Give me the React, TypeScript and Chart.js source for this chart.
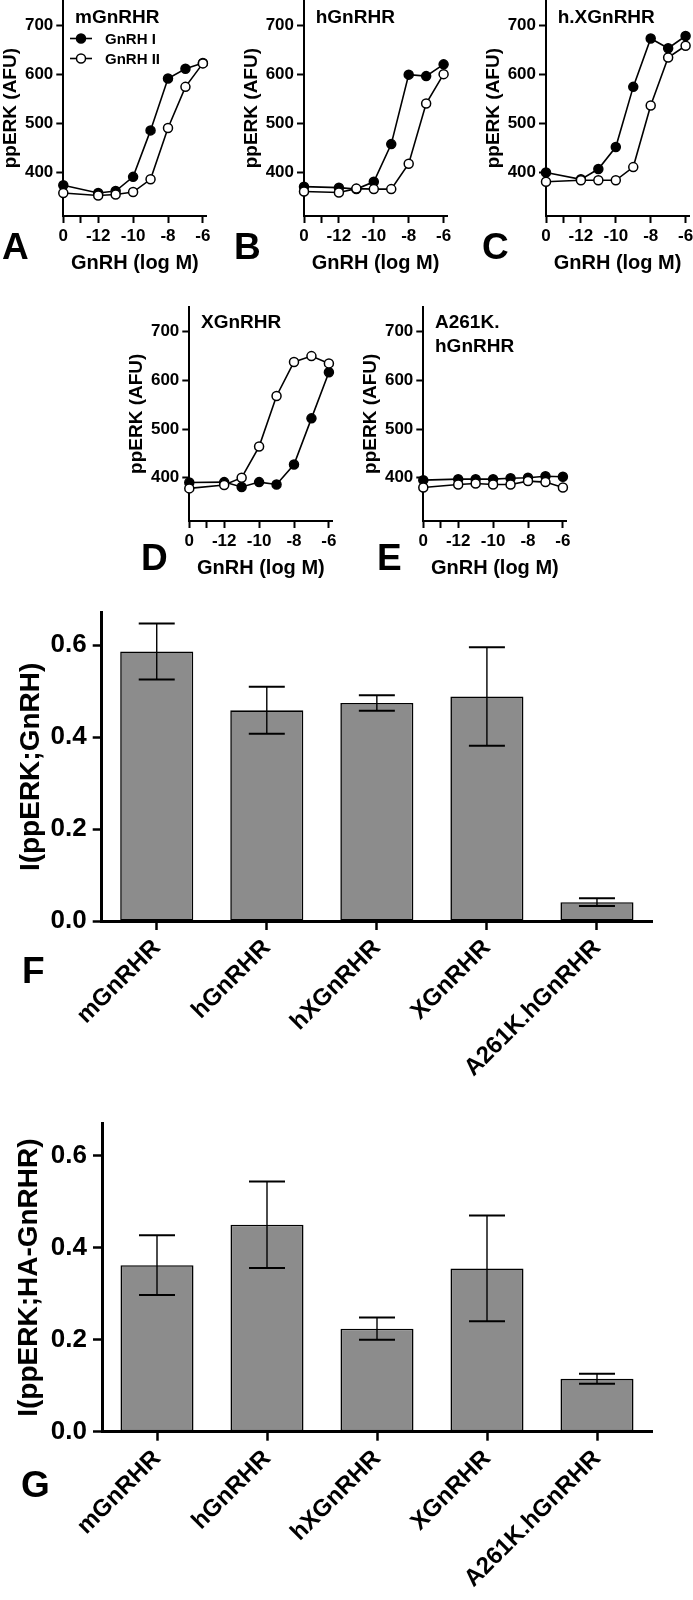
import React, { useEffect, useRef } from 'react';
import { Chart, registerables } from 'chart.js';

Chart.register(...registerables);

const FONT = "'Liberation Sans', Arial, Helvetica, sans-serif";
const NARROW = "'Liberation Sans Narrow', 'Arial Narrow', 'Liberation Sans', Arial, sans-serif";

// ---------- DATA ----------
// Dose positions on the log axis; the "0" (no GnRH) point is drawn at -14
const DOSE_X = [-14, -12, -11, -10, -9, -8, -7, -6];
const DOSE_TICK_VALUES = [-14, -13, -12, -10, -8, -6];
const DOSE_TICK_LABELS = ['0', '', '-12', '-10', '-8', '-6'];
const DOSE_Y_TICKS = [400, 500, 600, 700];

const M_GNRH1 = [374, 358, 362, 391, 486, 592, 612, 624];
const M_GNRH2 = [358, 353, 355, 360, 386, 491, 575, 623];
const H_GNRH1 = [371, 369, 366, 381, 458, 600, 597, 621];
const H_GNRH2 = [361, 359, 367, 366, 366, 418, 541, 601];
const HX_GNRH1 = [400, 386, 407, 452, 575, 674, 654, 679];
const HX_GNRH2 = [381, 384, 384, 384, 411, 537, 635, 659];
const X_GNRH1 = [390, 391, 381, 391, 386, 427, 522, 617];
const X_GNRH2 = [378, 385, 400, 464, 568, 638, 650, 635];
const A261K_GNRH1 = [395, 397, 397, 397, 399, 400, 403, 402];
const A261K_GNRH2 = [380, 386, 388, 386, 386, 393, 391, 380];

const BAR_CATEGORIES = ['mGnRHR', 'hGnRHR', 'hXGnRHR', 'XGnRHR', 'A261K.hGnRHR'];
const F_MEAN = [0.586, 0.458, 0.474, 0.488, 0.041];
const F_SEM = [0.061, 0.051, 0.017, 0.107, 0.0085];
const G_MEAN = [0.362, 0.45, 0.224, 0.355, 0.115];
const G_SEM = [0.065, 0.094, 0.024, 0.115, 0.011];
const BAR_Y_TICKS = [0, 0.2, 0.4, 0.6];

// ---------- GEOMETRY ----------
const DOSE_X_MIN = -14;
const DOSE_X_MAX = -5.8;
const DOSE_Y_MIN = 311;
const DOSE_Y_MAX = 752;
const PX_PER_LOG = 17.45;

type TextItem = { text: string; x: number; y: number; size: number; align?: CanvasTextAlign; baseline?: CanvasTextBaseline };
type LegendItem = { x1: number; x2: number; y: number; filled: boolean; text: string; tx: number };

function makeTextPlugin(items: TextItem[], legend: LegendItem[] = []) {
  return {
    id: 'panelText',
    afterDraw(chart: any) {
      const ctx = chart.ctx as CanvasRenderingContext2D;
      items.forEach((it) => {
        ctx.save();
        ctx.font = `bold ${it.size}px ${FONT}`;
        ctx.fillStyle = '#000';
        ctx.textAlign = it.align || 'left';
        ctx.textBaseline = it.baseline || 'alphabetic';
        ctx.fillText(it.text, it.x, it.y);
        ctx.restore();
      });
      legend.forEach((lg) => {
        ctx.save();
        ctx.strokeStyle = '#000';
        ctx.lineWidth = 1.6;
        ctx.beginPath();
        ctx.moveTo(lg.x1, lg.y);
        ctx.lineTo(lg.x2, lg.y);
        ctx.stroke();
        ctx.beginPath();
        ctx.arc((lg.x1 + lg.x2) / 2, lg.y, 4.5, 0, Math.PI * 2);
        ctx.fillStyle = lg.filled ? '#000' : '#fff';
        ctx.fill();
        ctx.lineWidth = 1.5;
        ctx.stroke();
        ctx.font = `bold 15px ${FONT}`;
        ctx.fillStyle = '#000';
        ctx.textAlign = 'left';
        ctx.textBaseline = 'middle';
        ctx.fillText(lg.text, lg.tx, lg.y + 1);
        ctx.restore();
      });
    },
  };
}

function makeErrorBarPlugin(mean: number[], sem: number[], cap: number) {
  return {
    id: 'errorBars',
    afterDatasetsDraw(chart: any) {
      const meta = chart.getDatasetMeta(0);
      const ys = chart.scales.y;
      const ctx = chart.ctx as CanvasRenderingContext2D;
      mean.forEach((m, i) => {
        const x = meta.data[i].x;
        const yHi = ys.getPixelForValue(m + sem[i]);
        const yLo = ys.getPixelForValue(m - sem[i]);
        ctx.save();
        ctx.strokeStyle = '#000';
        ctx.lineWidth = 1.4;
        ctx.beginPath();
        ctx.moveTo(x, yHi);
        ctx.lineTo(x, yLo);
        ctx.stroke();
        ctx.lineWidth = 2;
        ctx.beginPath();
        ctx.moveTo(x - cap, yHi);
        ctx.lineTo(x + cap, yHi);
        ctx.moveTo(x - cap, yLo);
        ctx.lineTo(x + cap, yLo);
        ctx.stroke();
        ctx.restore();
      });
    },
  };
}

type DosePanel = {
  left: number; top: number; width: number; height: number;
  axisX: number; axisTop: number; axisBottom: number;
  gnrh1: number[]; gnrh2: number[];
  titleLines: string[]; titleBaseline: number; letter: string; letterX: number; letterBaseline: number;
  legend?: boolean;
};

function doseConfig(p: DosePanel) {
  const yW = p.axisX - p.left;
  const padTop = p.axisTop - p.top;
  const xH = p.top + p.height - p.axisBottom;
  const plotW = (DOSE_X_MAX - DOSE_X_MIN) * PX_PER_LOG;
  const padRight = p.left + p.width - (p.axisX + plotW);
  const yTitleCenter = p.axisX - 52.3 - p.left;
  const yTitleLH = 19 * 1.2;
  const xTitleCenter = p.axisBottom + 47;
  const xTitleLH = 20 * 1.2;

  const items: TextItem[] = [];
  p.titleLines.forEach((t, i) => {
    items.push({ text: t, x: p.axisX + 11.7 - p.left, y: p.titleBaseline + i * 24 - p.top, size: 19 });
  });
  items.push({ text: p.letter, x: p.letterX - p.left, y: p.letterBaseline - p.top, size: 37 });
  const legend: LegendItem[] = p.legend
    ? [
        { x1: 70 - p.left, x2: 92 - p.left, y: 38.5 - p.top, filled: true, text: 'GnRH I', tx: 105 - p.left },
        { x1: 70 - p.left, x2: 92 - p.left, y: 58.5 - p.top, filled: false, text: 'GnRH II', tx: 105 - p.left },
      ]
    : [];

  const tickFont = { size: 17, weight: 'bold' as const, family: FONT };
  const mk = (vals: number[]) => DOSE_X.map((x, i) => ({ x, y: vals[i] }));

  return {
    type: 'line' as const,
    data: {
      datasets: [
        {
          label: 'GnRH I', data: mk(p.gnrh1), borderColor: '#000', borderWidth: 1.6,
          pointRadius: 4.5, pointBackgroundColor: '#000', pointBorderColor: '#000', pointBorderWidth: 1.5,
          tension: 0, clip: false as any, order: 1, fill: false,
        },
        {
          label: 'GnRH II', data: mk(p.gnrh2), borderColor: '#000', borderWidth: 1.6,
          pointRadius: 4.5, pointBackgroundColor: '#fff', pointBorderColor: '#000', pointBorderWidth: 1.5,
          tension: 0, clip: false as any, order: 0, fill: false,
        },
      ],
    },
    options: {
      animation: false as const,
      responsive: false,
      maintainAspectRatio: false,
      events: [],
      layout: { autoPadding: false, padding: { left: 0, top: padTop, right: padRight, bottom: 0 } },
      plugins: { legend: { display: false }, tooltip: { enabled: false } },
      scales: {
        x: {
          type: 'linear' as const, min: DOSE_X_MIN, max: DOSE_X_MAX,
          afterBuildTicks: (s: any) => { s.ticks = DOSE_TICK_VALUES.map((v) => ({ value: v })); },
          ticks: { callback: (_v: any, i: number) => DOSE_TICK_LABELS[i], font: tickFont, color: '#000', padding: 3, maxRotation: 0, minRotation: 0, autoSkip: false },
          grid: { display: true, drawOnChartArea: false, drawTicks: true, tickLength: 7, tickWidth: 2, tickColor: '#000', color: '#000' },
          border: { display: true, color: '#000', width: 2 },
          title: { display: true, text: 'GnRH (log M)', color: '#000', font: { size: 20, weight: 'bold' as const, family: FONT }, padding: { top: 0, bottom: p.top + p.height - xTitleCenter - xTitleLH / 2 } },
          afterFit: (s: any) => { s.height = xH; s.paddingLeft = 0; s.paddingRight = 0; },
        },
        y: {
          type: 'linear' as const, min: DOSE_Y_MIN, max: DOSE_Y_MAX,
          afterBuildTicks: (s: any) => { s.ticks = DOSE_Y_TICKS.map((v) => ({ value: v })); },
          ticks: { font: tickFont, color: '#000', padding: 3 },
          grid: { display: true, drawOnChartArea: false, drawTicks: true, tickLength: 7, tickWidth: 2, tickColor: '#000', color: '#000' },
          border: { display: true, color: '#000', width: 2 },
          title: { display: true, text: 'ppERK (AFU)', color: '#000', font: { size: 19, weight: 'bold' as const, family: FONT }, padding: { top: yTitleCenter - yTitleLH / 2, bottom: 0 } },
          afterFit: (s: any) => { s.width = yW; s.paddingTop = 0; s.paddingBottom = 0; },
        },
      },
    },
    plugins: [makeTextPlugin(items, legend)],
  };
}

type BarPanel = {
  left: number; top: number; width: number; height: number;
  axisX: number; axisTop: number; axisBottom: number; axisRight: number;
  mean: number[]; sem: number[]; yTitle: string; yTitleCenter: number;
  letter: string; letterX: number; letterBaseline: number;
};

function barConfig(p: BarPanel) {
  const yW = p.axisX - p.left;
  const padTop = p.axisTop - p.top;
  const xH = p.top + p.height - p.axisBottom;
  const padRight = p.left + p.width - p.axisRight;
  const titleLH = 28 * 1.2;
  const yMax = (p.axisBottom - p.axisTop) / 460;
  const bold24 = { size: 24, weight: 'bold' as const, family: FONT };
  const narrow = { size: 26, weight: 'bold' as const, family: NARROW };
  return {
    type: 'bar' as const,
    data: {
      labels: BAR_CATEGORIES,
      datasets: [
        {
          data: p.mean, backgroundColor: '#8c8c8c', borderColor: '#000', borderWidth: 1.6,
          borderSkipped: false as any, barPercentage: 0.664, categoryPercentage: 1,
        },
      ],
    },
    options: {
      animation: false as const,
      responsive: false,
      maintainAspectRatio: false,
      events: [],
      layout: { autoPadding: false, padding: { left: 0, top: padTop, right: padRight, bottom: 0 } },
      plugins: { legend: { display: false }, tooltip: { enabled: false } },
      scales: {
        x: {
          type: 'category' as const,
          ticks: { font: bold24, color: '#000', padding: 4, minRotation: 45, maxRotation: 45, autoSkip: false },
          grid: { display: true, offset: false, drawOnChartArea: false, drawTicks: true, tickLength: 9, tickWidth: 2.5, tickColor: '#000', color: '#000' },
          border: { display: true, color: '#000', width: 3 },
          afterFit: (s: any) => { s.height = xH; s.paddingLeft = 0; s.paddingRight = 0; },
        },
        y: {
          type: 'linear' as const, min: 0, max: yMax,
          afterBuildTicks: (s: any) => { s.ticks = BAR_Y_TICKS.map((v) => ({ value: v })); },
          ticks: { font: narrow, color: '#000', padding: 6, callback: (v: any) => Number(v).toFixed(1) },
          grid: { display: true, drawOnChartArea: false, drawTicks: true, tickLength: 9, tickWidth: 2.5, tickColor: '#000', color: '#000' },
          border: { display: true, color: '#000', width: 3 },
          title: { display: true, text: p.yTitle, color: '#000', font: { size: 28, weight: 'bold' as const, family: FONT }, padding: { top: p.yTitleCenter - p.left - titleLH / 2, bottom: 0 } },
          afterFit: (s: any) => { s.width = yW; s.paddingTop = 0; s.paddingBottom = 0; },
        },
      },
    },
    plugins: [
      makeErrorBarPlugin(p.mean, p.sem, 18),
      makeTextPlugin([{ text: p.letter, x: p.letterX - p.left, y: p.letterBaseline - p.top, size: 37 }]),
    ],
  };
}

const ROW1 = { top: 0, height: 290, axisTop: 0.3, axisBottom: 216, titleBaseline: 22.5, letterBaseline: 259 };
const ROW2 = { top: 298, height: 294, axisTop: 306.5, axisBottom: 521, titleBaseline: 327.5, letterBaseline: 570 };

const DOSE_PANELS: DosePanel[] = [
  { left: 0, width: 228, axisX: 63.3, ...ROW1, gnrh1: M_GNRH1, gnrh2: M_GNRH2, titleLines: ['mGnRHR'], letter: 'A', letterX: 2, legend: true },
  { left: 228, width: 232, axisX: 304, ...ROW1, gnrh1: H_GNRH1, gnrh2: H_GNRH2, titleLines: ['hGnRHR'], letter: 'B', letterX: 234 },
  { left: 468, width: 225, axisX: 546, ...ROW1, gnrh1: HX_GNRH1, gnrh2: HX_GNRH2, titleLines: ['h.XGnRHR'], letter: 'C', letterX: 482 },
  { left: 128, width: 222, axisX: 189.3, ...ROW2, gnrh1: X_GNRH1, gnrh2: X_GNRH2, titleLines: ['XGnRHR'], letter: 'D', letterX: 141 },
  { left: 360, width: 222, axisX: 423.3, ...ROW2, gnrh1: A261K_GNRH1, gnrh2: A261K_GNRH2, titleLines: ['A261K.', 'hGnRHR'], letter: 'E', letterX: 377 },
];

const BAR_PANELS: BarPanel[] = [
  {
    left: 0, top: 598, width: 693, height: 502, axisX: 101.7, axisTop: 612.8, axisBottom: 921, axisRight: 652,
    mean: F_MEAN, sem: F_SEM, yTitle: 'I(ppERK;GnRH)', yTitleCenter: 31, letter: 'F', letterX: 22, letterBaseline: 983,
  },
  {
    left: 0, top: 1108, width: 693, height: 492, axisX: 102, axisTop: 1123.5, axisBottom: 1431.7, axisRight: 652,
    mean: G_MEAN, sem: G_SEM, yTitle: 'I(ppERK;HA-GnRHR)', yTitleCenter: 29, letter: 'G', letterX: 21, letterBaseline: 1497,
  },
];

function ChartCanvas(props: { left: number; top: number; width: number; height: number; make: () => any }) {
  const ref = useRef<HTMLCanvasElement>(null);
  useEffect(() => {
    if (!ref.current) return;
    const chart = new Chart(ref.current, props.make());
    return () => chart.destroy();
  }, []);
  return (
    <canvas
      ref={ref}
      width={props.width}
      height={props.height}
      style={{ position: 'absolute', left: props.left, top: props.top, width: props.width, height: props.height }}
    />
  );
}

export default function App() {
  return (
    <div style={{ position: 'absolute', left: 0, top: 0, width: 693, height: 1600, background: '#fff', overflow: 'hidden' }}>
      {DOSE_PANELS.map((p, i) => (
        <ChartCanvas key={'d' + i} left={p.left} top={p.top} width={p.width} height={p.height} make={() => doseConfig(p)} />
      ))}
      {BAR_PANELS.map((p, i) => (
        <ChartCanvas key={'b' + i} left={p.left} top={p.top} width={p.width} height={p.height} make={() => barConfig(p)} />
      ))}
    </div>
  );
}
